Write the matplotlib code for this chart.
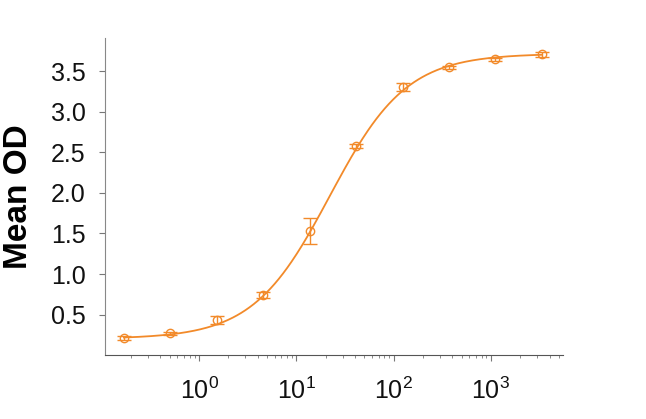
import numpy as np
import matplotlib
matplotlib.use("Agg")
import matplotlib.pyplot as plt
from matplotlib.ticker import LogLocator, NullFormatter, FixedLocator

plt.rcParams['font.family'] = ['Liberation Sans', 'DejaVu Sans']

# Data
conc = [0.169, 0.508, 1.52, 4.57, 13.7, 41.2, 123.5, 370, 1111, 3333]
mean_od = [0.21, 0.27, 0.43, 0.74, 1.53, 2.58, 3.31, 3.55, 3.65, 3.71]
sd_od = [0.02, 0.02, 0.05, 0.04, 0.16, 0.02, 0.05, 0.02, 0.02, 0.03]

# 4PL fit parameters
fit_bottom = 0.2
fit_top = 3.72
fit_ec50 = 22.0
fit_hill = 1.1

color = '#F28a2a'

fig = plt.figure(figsize=(6.46, 4.19), dpi=100)
ax = fig.add_axes([0.1625, 0.1527, 0.709, 0.756])

xs = np.logspace(np.log10(conc[0]), np.log10(conc[-1]), 400)
ys = fit_bottom + (fit_top - fit_bottom) / (1 + (fit_ec50 / xs) ** fit_hill)
ax.plot(xs, ys, color=color, lw=1.3)
ax.errorbar(conc, mean_od, yerr=sd_od, fmt='o', mfc='none', mec=color, ecolor=color,
            ms=6, mew=1.0, capsize=5, elinewidth=1.0, capthick=1.0)

ax.set_xscale('log')
ax.set_xlim(0.108, 5500)
ax.set_ylim(0, 3.91)
ax.yaxis.set_major_locator(FixedLocator([0.5, 1.0, 1.5, 2.0, 2.5, 3.0, 3.5]))
ax.set_yticklabels(['0.5', '1.0', '1.5', '2.0', '2.5', '3.0', '3.5'])
ax.xaxis.set_major_locator(FixedLocator([1, 10, 100, 1000]))
ax.set_xticklabels(['$\\mathregular{10^{0}}$', '$\\mathregular{10^{1}}$',
                    '$\\mathregular{10^{2}}$', '$\\mathregular{10^{3}}$'])
ax.xaxis.set_minor_locator(LogLocator(base=10, subs=np.arange(2, 10), numticks=20))
ax.xaxis.set_minor_formatter(NullFormatter())

for s in ['top', 'right']:
    ax.spines[s].set_visible(False)
ax.spines['left'].set_color('#888888')
ax.spines['bottom'].set_color('#555555')
ax.tick_params(axis='both', which='major', labelsize=18, length=4, color='#777777', labelcolor='#111111')
ax.tick_params(axis='y', which='major', pad=10)
ax.tick_params(axis='x', which='minor', length=2.5, color='#777777')
ax.tick_params(axis='x', which='major', pad=12)

ax.set_ylabel('Mean OD', fontsize=24, fontweight='bold', labelpad=12)

fig.savefig('out.png', dpi=100)
